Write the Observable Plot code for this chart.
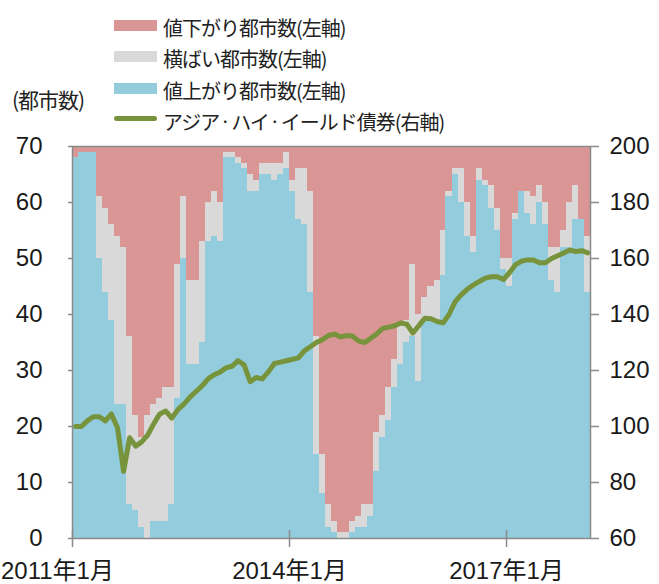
<!DOCTYPE html>
<html>
<head>
<meta charset="utf-8">
<script src="https://cdn.jsdelivr.net/npm/d3@7"></script>
<script src="https://cdn.jsdelivr.net/npm/@observablehq/plot@0.6"></script>
<style>
  html, body { margin: 0; padding: 0; background: #fff; }
  #wrap { position: relative; width: 659px; height: 584px; font-family: "Noto Sans CJK JP", sans-serif; color: #222; }
  #wrap svg { position: absolute; left: 0; top: 0; }
  .row { position: absolute; left: 114px; height: 30px; display: flex; align-items: center; }
  .sw { width: 43px; height: 11px; margin-right: 6px; position: relative; top: -2px; }
  .swl { width: 43px; height: 5px; border-radius: 3px; margin-right: 6px; position: relative; top: -3px; }
  .lt { font-size: 20px; letter-spacing: -1px; white-space: nowrap; }
  .dot { font-size: 12px; letter-spacing: 0; position: relative; top: -3px; }
  #unit { position: absolute; left: 12px; top: 84px; font-size: 21px; letter-spacing: -1px; }
</style>
</head>
<body>
<div id="wrap"></div>
<script>
// Monthly data, Jan 2011 – Feb 2018
const startYear = 2011, startMonth = 0;
const upCities = [68,69,69,69,50,44,39,24,24,6, 5,2,0,3,3,3,6,25,50,31, 31,35,53,54,53,68,68,67,66,62,
  62,65,65,64,65,66,62,57,56,44, 15,8,2,1,0,0,1,2,2,4, 12,18,21,27,31,35,36,28,39,39,
  39,47,61,65,60,54,51,64,63,59, 55,48,45,57,62,58,56,60,56,46, 44,52,52,57,57,44];
const flatCities = [0,0,0,0,11,15,17,30,28,30, 17,16,22,21,22,24,21,24,11,15, 15,18,7,8,7,1,1,1,1,3,
  2,2,2,3,2,3,2,9,10,18, 21,7,4,2,1,1,2,2,4,2, 7,4,6,5,7,4,13,12,4,6,
  7,8,1,1,6,6,3,2,1,4, 4,2,5,1,0,4,5,3,4,6, 8,3,8,6,0,10];
const downCities = [2,1,1,1,9,11,14,16,18,34, 48,52,48,46,45,43,43,21,9,24, 24,17,10,8,10,1,1,2,3,5,
  6,3,3,3,3,1,6,4,4,8, 34,55,64,67,69,69,67,66,64,64, 51,48,43,38,32,31,21,30,27,25,
  24,15,8,4,4,10,16,4,6,7, 11,20,20,12,8,8,9,7,10,18, 18,15,10,7,13,16];
const hyIndex = [100,100,102,103.5,103.5,102,104.5,99.5,84,96, 93,94.5,97,101,104.5,105.5,103,106,108,110.5,
  112.5,114.5,117,118.5,119.5,121,121.5,123.5,122,116, 117.5,117,119.5,122.5,123,123.5,124,124.5,127,128.5,
  130,131,132.5,133,132,132.5,132.2,130.5,130,131.5, 133,135,135.5,136,137,136.5,133.4,136,138.7,138.5,
  137.5,137,140,144.5,147,149,150.5,151.8,153,153.5, 153.5,152.5,155,157.8,159,159.5,159.5,158.5,158.5,160,
  161,162,163,162.5,162.8,162];

const seriesNames = ["値上がり都市数(左軸)", "横ばい都市数(左軸)", "値下がり都市数(左軸)"];
const seriesColors = ["#93CDDD", "#D9D9D9", "#D99694"];
const lineName = "アジア・ハイ・イールド債券(右軸)";
const lineColor = "#77933C";
const leftTicks = [0, 10, 20, 30, 40, 50, 60, 70];
const rightTicks = [60, 80, 100, 120, 140, 160, 180, 200];
const xTickYears = [2011, 2014, 2017];
const xTickLabels = ["2011年1月", "2014年1月", "2017年1月"];

const n = upCities.length;
const monthStart = i => new Date(Date.UTC(startYear, startMonth + i, 1));
const bars = [];
const seriesArrays = [upCities, flatCities, downCities];
for (let i = 0; i < n; i++) {
  seriesArrays.forEach((arr, s) => bars.push({date: monthStart(i), series: seriesNames[s], value: arr[i]}));
}
const lineRows = hyIndex.map((v, i) => ({date: new Date((+monthStart(i) + +monthStart(i + 1)) / 2), v}));
// right axis (60–200) mapped onto left scale (0–70)
const toLeft = v => (v - 60) * 70 / 140;
const xTicks = xTickYears.map(y => new Date(Date.UTC(y, 0, 1)));
const labelOf = d => xTickLabels[xTickYears.indexOf(d.getUTCFullYear())];
const axisGray = "#8a8a8a";
const tickFont = "'Liberation Sans', 'Noto Sans CJK JP', sans-serif";

const chart = Plot.plot({
  width: 659,
  height: 584,
  marginLeft: 72,
  marginRight: 69,
  marginTop: 146,
  marginBottom: 46,
  style: {fontFamily: tickFont, fontSize: "24px", color: "#1a1a1a", background: "transparent"},
  x: {type: "utc", domain: [monthStart(0), monthStart(n)]},
  y: {domain: [0, 70]},
  color: {domain: seriesNames, range: seriesColors},
  marks: [
    Plot.rectY(bars, {x: "date", interval: "month", y: "value", fill: "series", inset: 0, shapeRendering: "crispEdges"}),
    Plot.lineY(lineRows, {x: "date", y: d => toLeft(d.v), stroke: lineColor, strokeWidth: 5, strokeLinejoin: "round", strokeLinecap: "round"}),
    Plot.frame({stroke: axisGray, strokeWidth: 1.5}),
    Plot.axisY(leftTicks, {anchor: "left", tickSize: 4, tickPadding: 26, fontSize: 24, label: null, stroke: axisGray, strokeWidth: 1.5}),
    Plot.axisY(rightTicks.map(toLeft), {anchor: "right", tickSize: 8, tickPadding: 11, fontSize: 24, label: null,
      tickFormat: d => rightTicks[rightTicks.map(toLeft).indexOf(d)], stroke: axisGray, strokeWidth: 1.5}),
    Plot.ruleX(xTicks, {x: d => d, y1: 0, y2: 0, insetTop: -8, insetBottom: -9, stroke: axisGray, strokeWidth: 1.5}),
    Plot.axisX(xTicks.slice(1), {anchor: "bottom", tickSize: 0, tickPadding: 23, fontSize: 24, label: null, tickFormat: labelOf}),
    Plot.axisX(xTicks.slice(0, 1), {anchor: "bottom", tickSize: 0, tickPadding: 23, fontSize: 24, label: null, tickFormat: labelOf, dx: -15})
  ]
});

const wrap = document.getElementById("wrap");
wrap.appendChild(chart);

// legend (top to bottom: 下, 横ばい, 上, line)
const legendItems = [
  {label: seriesNames[2], color: seriesColors[2], center: 27},
  {label: seriesNames[1], color: seriesColors[1], center: 58},
  {label: seriesNames[0], color: seriesColors[0], center: 90},
  {label: lineName, color: lineColor, center: 121, line: true}
];
for (const it of legendItems) {
  const row = document.createElement("div");
  row.className = "row";
  row.style.top = (it.center - 15) + "px";
  const sw = document.createElement("div");
  sw.className = it.line ? "swl" : "sw";
  sw.style.background = it.color;
  const t = document.createElement("span");
  t.className = "lt";
  // narrower middle dots, like the original's proportional font
  it.label.split(/(・)/).forEach(part => {
    if (part === "・") {
      const d = document.createElement("span");
      d.className = "dot";
      d.textContent = part;
      t.appendChild(d);
    } else if (part) {
      t.appendChild(document.createTextNode(part));
    }
  });
  row.appendChild(sw);
  row.appendChild(t);
  wrap.appendChild(row);
}
const unit = document.createElement("div");
unit.id = "unit";
unit.textContent = "(都市数)";
wrap.appendChild(unit);
</script>
</body>
</html>
